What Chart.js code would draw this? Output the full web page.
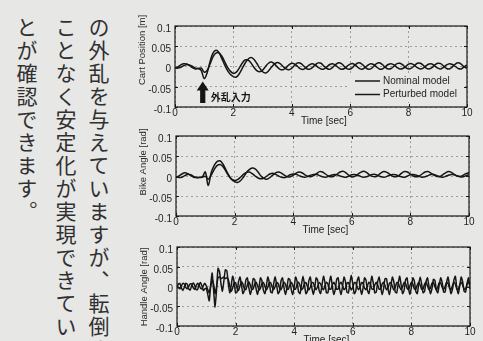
<!DOCTYPE html>
<html>
<head>
<meta charset="utf-8">
<script src="https://cdn.jsdelivr.net/npm/chart.js@4.4.1/dist/chart.umd.min.js"></script>
<style>
  html, body { margin: 0; padding: 0; width: 483px; height: 341px; overflow: hidden; background: #e7e7e6; }
  .col {
    position: absolute; top: 17px; writing-mode: vertical-rl;
    font-family: "Noto Sans CJK JP", sans-serif; font-size: 21px; line-height: 1;
    letter-spacing: 2px; color: #303030; white-space: nowrap;
  }
  canvas { position: absolute; left: 0; top: 0; }
</style>
</head>
<body>
<div class="col" style="left:88px">の外乱を与えていますが、転倒する</div>
<div class="col" style="left:55px">ことなく安定化が実現できている</div>
<div class="col" style="left:16px">とが確認できます。</div>
<canvas id="cart" width="483" height="341"></canvas>
<canvas id="bike" width="483" height="341"></canvas>
<canvas id="handle" width="483" height="341"></canvas>
<script>
// sample times [sec]
const timeCoarse = [
  0,0.1,0.2,0.3,0.4,0.5,0.6,0.7,0.8,0.9,
  1,1.1,1.2,1.3,1.4,1.5,1.6,1.7,1.8,1.9,
  2,2.1,2.2,2.3,2.4,2.5,2.6,2.7,2.8,2.9,
  3,3.1,3.2,3.3,3.4,3.5,3.6,3.7,3.8,3.9,
  4,4.1,4.2,4.3,4.4,4.5,4.6,4.7,4.8,4.9,
  5,5.1,5.2,5.3,5.4,5.5,5.6,5.7,5.8,5.9,
  6,6.1,6.2,6.3,6.4,6.5,6.6,6.7,6.8,6.9,
  7,7.1,7.2,7.3,7.4,7.5,7.6,7.7,7.8,7.9,
  8,8.1,8.2,8.3,8.4,8.5,8.6,8.7,8.8,8.9,
  9,9.1,9.2,9.3,9.4,9.5,9.6,9.7,9.8,9.9,
  10
];
const timeFine = [
  0,0.05,0.1,0.15,0.2,0.25,0.3,0.35,0.4,0.45,0.5,0.55,0.6,0.65,0.7,0.75,0.8,0.85,0.9,0.95,
  1,1.05,1.1,1.15,1.2,1.25,1.3,1.35,1.4,1.45,1.5,1.55,1.6,1.65,1.7,1.75,1.8,1.85,1.9,1.95,
  2,2.05,2.1,2.15,2.2,2.25,2.3,2.35,2.4,2.45,2.5,2.55,2.6,2.65,2.7,2.75,2.8,2.85,2.9,2.95,
  3,3.05,3.1,3.15,3.2,3.25,3.3,3.35,3.4,3.45,3.5,3.55,3.6,3.65,3.7,3.75,3.8,3.85,3.9,3.95,
  4,4.05,4.1,4.15,4.2,4.25,4.3,4.35,4.4,4.45,4.5,4.55,4.6,4.65,4.7,4.75,4.8,4.85,4.9,4.95,
  5,5.05,5.1,5.15,5.2,5.25,5.3,5.35,5.4,5.45,5.5,5.55,5.6,5.65,5.7,5.75,5.8,5.85,5.9,5.95,
  6,6.05,6.1,6.15,6.2,6.25,6.3,6.35,6.4,6.45,6.5,6.55,6.6,6.65,6.7,6.75,6.8,6.85,6.9,6.95,
  7,7.05,7.1,7.15,7.2,7.25,7.3,7.35,7.4,7.45,7.5,7.55,7.6,7.65,7.7,7.75,7.8,7.85,7.9,7.95,
  8,8.05,8.1,8.15,8.2,8.25,8.3,8.35,8.4,8.45,8.5,8.55,8.6,8.65,8.7,8.75,8.8,8.85,8.9,8.95,
  9,9.05,9.1,9.15,9.2,9.25,9.3,9.35,9.4,9.45,9.5,9.55,9.6,9.65,9.7,9.75,9.8,9.85,9.9,9.95,
  10
];

// Cart Position [m]
const cartNominal = [
  -0.004,-0.001,0.004,0.007,0.006,0.002,-0.003,-0.006,-0.005,-0.010,
  -0.030,-0.016,0.012,0.033,0.040,0.035,0.020,0.004,-0.010,-0.020,
  -0.025,-0.026,-0.018,-0.005,0.008,0.018,0.022,0.018,0.008,-0.004,
  -0.013,-0.016,-0.011,-0.002,0.006,0.010,0.007,0.000,-0.006,-0.008,
  -0.004,0.003,0.009,0.008,0.002,-0.005,-0.007,-0.003,0.004,0.009,
  0.008,0.001,-0.005,-0.007,-0.002,0.005,0.009,0.007,0.000,-0.006,
  -0.006,-0.001,0.006,0.009,0.006,-0.001,-0.006,-0.006,0.000,0.007,
  0.009,0.005,-0.002,-0.006,-0.005,0.001,0.007,0.008,0.004,-0.003,
  -0.006,-0.004,0.002,0.008,0.008,0.003,-0.004,-0.006,-0.003,0.004,
  0.008,0.007,0.001,-0.005,-0.006,-0.001,0.006,0.009,0.006,-0.001,
  -0.004
];
const cartPerturbed = [
  -0.003,-0.004,-0.002,0.002,0.005,0.004,0.000,-0.004,-0.005,-0.004,
  -0.014,-0.010,0.006,0.024,0.033,0.034,0.026,0.012,-0.002,-0.012,
  -0.017,-0.014,-0.004,0.008,0.016,0.016,0.009,-0.002,-0.010,-0.013,
  -0.009,0.000,0.008,0.011,0.007,-0.001,-0.007,-0.008,-0.003,0.004,
  0.008,0.006,0.000,-0.006,-0.007,-0.002,0.004,0.007,0.004,-0.002,
  -0.006,-0.006,-0.001,0.005,0.007,0.003,-0.003,-0.007,-0.005,0.001,
  0.006,0.007,0.002,-0.004,-0.007,-0.003,0.003,0.007,0.005,-0.001,
  -0.006,-0.006,-0.001,0.005,0.007,0.004,-0.002,-0.006,-0.005,0.000,
  0.006,0.007,0.003,-0.003,-0.006,-0.004,0.002,0.006,0.006,0.001,
  -0.004,-0.006,-0.002,0.004,0.007,0.005,0.000,-0.005,-0.006,-0.001,
  0.004
];

// Bike Angle [rad]
const bikeNominal = [
  -0.004,0.000,0.005,0.008,0.006,0.001,-0.003,-0.004,-0.003,-0.002,
  0.010,-0.024,0.008,0.026,0.036,0.038,0.030,0.016,0.002,-0.009,
  -0.014,-0.016,-0.012,-0.003,0.008,0.016,0.020,0.018,0.010,0.000,
  -0.006,-0.008,-0.004,0.002,0.008,0.010,0.007,0.002,-0.002,-0.002,
  0.002,0.007,0.010,0.008,0.003,-0.001,-0.002,0.001,0.006,0.011,
  0.010,0.005,0.000,-0.002,0.000,0.005,0.010,0.012,0.008,0.002,
  -0.002,-0.001,0.004,0.009,0.012,0.009,0.003,-0.001,-0.002,0.002,
  0.008,0.011,0.009,0.004,-0.001,-0.002,0.001,0.007,0.011,0.010,
  0.005,0.000,-0.002,0.000,0.005,0.010,0.011,0.007,0.002,-0.001,
  -0.001,0.003,0.008,0.011,0.009,0.004,0.000,-0.001,0.002,0.006,
  0.008
];
const bikePerturbed = [
  -0.002,-0.004,-0.003,0.001,0.004,0.003,-0.001,-0.004,-0.004,-0.003,
  -0.001,-0.008,0.002,0.016,0.026,0.029,0.024,0.012,0.000,-0.008,
  -0.011,-0.009,-0.003,0.004,0.009,0.010,0.006,0.000,-0.005,-0.007,
  -0.005,0.000,0.005,0.007,0.004,0.000,-0.003,-0.004,-0.001,0.003,
  0.005,0.004,0.001,-0.002,-0.003,-0.001,0.002,0.004,0.004,0.001,
  -0.002,-0.003,-0.001,0.002,0.004,0.003,0.000,-0.002,-0.003,0.000,
  0.003,0.004,0.002,-0.001,-0.003,-0.002,0.001,0.004,0.004,0.001,
  -0.002,-0.003,-0.001,0.002,0.004,0.003,0.000,-0.002,-0.003,0.000,
  0.003,0.004,0.002,-0.001,-0.003,-0.002,0.001,0.004,0.004,0.001,
  -0.002,-0.003,-0.001,0.002,0.004,0.003,0.000,-0.002,-0.002,0.001,
  0.003
];

// Handle Angle [rad]
const handleNominal = [
  0.000,0.006,0.008,-0.004,-0.010,-0.002,0.008,0.006,-0.006,-0.009,0.002,0.009,0.004,-0.008,-0.008,0.004,0.010,0.002,-0.010,-0.006,
  -0.004,-0.020,-0.036,0.004,0.034,-0.010,-0.052,-0.008,0.046,0.038,0.008,-0.012,0.014,0.042,0.040,0.008,-0.016,0.002,0.026,0.012,
  -0.016,-0.014,0.012,0.024,0.004,-0.018,-0.010,0.016,0.022,-0.002,-0.020,-0.006,0.020,0.018,-0.006,-0.020,-0.002,0.022,0.014,-0.010,
  -0.018,0.002,0.024,0.010,-0.014,-0.016,0.008,0.024,0.004,-0.018,-0.012,0.014,0.022,-0.002,-0.020,-0.006,0.020,0.018,-0.008,-0.020,
  0.000,0.024,0.012,-0.014,-0.018,0.006,0.026,0.006,-0.018,-0.012,0.014,0.024,-0.002,-0.020,-0.004,0.022,0.016,-0.010,-0.018,0.004,
  0.026,0.010,-0.016,-0.016,0.010,0.026,0.002,-0.020,-0.008,0.018,0.022,-0.006,-0.020,0.000,0.024,0.012,-0.014,-0.016,0.008,0.028,
  0.006,-0.018,-0.012,0.014,0.024,-0.002,-0.020,-0.004,0.022,0.016,-0.010,-0.018,0.004,0.026,0.008,-0.016,-0.014,0.012,0.024,0.000,
  -0.020,-0.006,0.020,0.020,-0.006,-0.020,0.000,0.024,0.012,-0.014,-0.016,0.008,0.026,0.004,-0.018,-0.010,0.016,0.022,-0.004,-0.020,
  -0.002,0.022,0.014,-0.012,-0.018,0.006,0.024,0.006,-0.016,-0.012,0.012,0.022,0.000,-0.018,-0.006,0.018,0.016,-0.008,-0.016,0.004,
  0.022,0.010,-0.014,-0.014,0.010,0.024,0.002,-0.018,-0.008,0.016,0.026,-0.004,-0.018,0.002,0.024,0.012,-0.012,-0.014,0.008,0.022,
  -0.006
];
const handlePerturbed = [
  0.002,-0.003,-0.006,0.002,0.008,0.006,-0.002,-0.006,0.000,0.007,0.006,-0.003,-0.007,0.000,0.008,0.005,-0.004,-0.006,0.002,0.008,
  0.002,-0.008,-0.016,0.000,0.016,0.006,-0.018,0.000,0.022,0.024,0.020,0.022,0.024,0.020,0.022,0.018,0.002,-0.012,-0.004,0.010,
  0.010,-0.004,-0.010,0.002,0.012,0.006,-0.006,-0.008,0.004,0.012,0.004,-0.008,-0.006,0.006,0.011,0.002,-0.009,-0.004,0.008,0.010,
  0.000,-0.009,-0.002,0.010,0.009,-0.002,-0.008,0.000,0.010,0.008,-0.004,-0.008,0.002,0.011,0.006,-0.006,-0.007,0.004,0.011,0.004,
  -0.007,-0.006,0.006,0.011,0.002,-0.008,-0.004,0.008,0.010,0.000,-0.009,-0.002,0.010,0.009,-0.002,-0.008,0.000,0.010,0.007,-0.004,
  -0.008,0.002,0.011,0.006,-0.006,-0.007,0.004,0.011,0.004,-0.007,-0.006,0.006,0.011,0.002,-0.008,-0.004,0.008,0.010,0.000,-0.009,
  -0.002,0.010,0.009,-0.002,-0.008,0.000,0.010,0.008,-0.004,-0.008,0.002,0.011,0.006,-0.006,-0.007,0.004,0.011,0.004,-0.007,-0.006,
  0.006,0.011,0.002,-0.008,-0.004,0.008,0.010,0.000,-0.009,-0.002,0.010,0.009,-0.002,-0.008,0.000,0.010,0.008,-0.004,-0.008,0.002,
  0.011,0.006,-0.006,-0.007,0.004,0.011,0.004,-0.007,-0.006,0.006,0.011,0.002,-0.008,-0.004,0.008,0.010,0.000,-0.009,-0.002,0.010,
  0.009,-0.002,-0.008,0.000,0.010,0.008,-0.004,-0.008,0.002,0.011,0.006,-0.006,-0.007,0.004,0.011,0.004,-0.007,-0.006,0.006,0.011,
  0.002
];

const seriesLabels = ["Nominal model", "Perturbed model"];
const xTicks = { min: 0, max: 10, step: 2 };
const yTicks = { min: -0.1, max: 0.1, step: 0.05 };

const FONT = '"Liberation Sans", Arial, sans-serif';
Chart.defaults.font.family = FONT;
Chart.defaults.font.size = 10;
Chart.defaults.color = "#1f1f1f";

// frame, inner ticks, axis titles, legend and the disturbance arrow
const decor = {
  id: "decor",
  afterDraw(chart, args, o) {
    const { ctx, chartArea: a, scales: { x, y } } = chart;
    ctx.save();
    ctx.strokeStyle = "#1a1a1a";
    ctx.lineWidth = 1.2;
    ctx.strokeRect(a.left, a.top, a.right - a.left, a.bottom - a.top);

    ctx.lineWidth = 1;
    ctx.beginPath();
    x.ticks.forEach(t => {
      const px = Math.round(x.getPixelForValue(t.value)) + 0.5;
      ctx.moveTo(px, a.bottom); ctx.lineTo(px, a.bottom - 3);
      ctx.moveTo(px, a.top); ctx.lineTo(px, a.top + 3);
    });
    y.ticks.forEach(t => {
      const py = Math.round(y.getPixelForValue(t.value)) + 0.5;
      ctx.moveTo(a.left, py); ctx.lineTo(a.left + 3, py);
      ctx.moveTo(a.right, py); ctx.lineTo(a.right - 3, py);
    });
    ctx.stroke();

    ctx.fillStyle = "#222";
    ctx.font = "10px " + FONT;
    ctx.textAlign = "center";
    ctx.textBaseline = "middle";
    ctx.fillText("Time [sec]", x.getPixelForValue(5.1), a.bottom + 14);

    ctx.save();
    ctx.translate(a.left - 33, o.yTitleY);
    ctx.rotate(-Math.PI / 2);
    ctx.font = "9.5px " + FONT;
    ctx.fillStyle = "#2a2a2a";
    ctx.fillText(o.yTitle, 0, 0);
    ctx.restore();

    if (o.legend) {
      const right = a.right - 4, bottom = a.bottom - 4;
      ctx.fillStyle = "#e7e7e6";
      ctx.fillRect(right - 113, bottom - 29, 112, 28);
      ctx.strokeStyle = "#1a1a1a";
      ctx.lineWidth = 1.5;
      ctx.textAlign = "left";
      ctx.fillStyle = "#1f1f1f";
      chart.data.datasets.forEach((ds, i) => {
        const ly = bottom - 22 + i * 13.5;
        ctx.beginPath();
        ctx.moveTo(right - 108, ly); ctx.lineTo(right - 83, ly);
        ctx.stroke();
        ctx.fillText(ds.label, right - 80, ly);
      });
    }

    if (o.arrow) {
      const ax = x.getPixelForValue(o.arrow.t);
      const tip = y.getPixelForValue(o.arrow.tip);
      const base = y.getPixelForValue(o.arrow.base);
      const neck = tip + 9;
      ctx.fillStyle = "#151515";
      ctx.beginPath();
      ctx.moveTo(ax, tip);
      ctx.lineTo(ax + 6, neck);
      ctx.lineTo(ax + 2.6, neck);
      ctx.lineTo(ax + 2.6, base);
      ctx.lineTo(ax - 2.6, base);
      ctx.lineTo(ax - 2.6, neck);
      ctx.lineTo(ax - 6, neck);
      ctx.closePath();
      ctx.fill();
      ctx.font = 'bold 10px "Noto Sans CJK JP", sans-serif';
      ctx.textAlign = "left";
      ctx.fillText(o.arrow.text, ax + 8, y.getPixelForValue(o.arrow.textY));
    }
    ctx.restore();
  }
};

function makePlot(id, times, nominal, perturbed, box, decorOpts, tension) {
  const pts = vals => times.map((t, i) => ({ x: t, y: vals[i] }));
  const line = {
    borderColor: "#161616", borderWidth: 1.5, pointRadius: 0,
    tension: tension, fill: false
  };
  return new Chart(document.getElementById(id), {
    type: "line",
    data: {
      datasets: [
        Object.assign({ label: seriesLabels[0], data: pts(nominal) }, line),
        Object.assign({ label: seriesLabels[1], data: pts(perturbed) }, line)
      ]
    },
    options: {
      responsive: false,
      animation: false,
      events: [],
      layout: {
        padding: { left: box.left - 30, right: 483 - box.right, top: box.top, bottom: 341 - box.bottom - 14 }
      },
      plugins: { legend: { display: false }, tooltip: { enabled: false }, decor: decorOpts },
      scales: {
        x: {
          type: "linear", min: xTicks.min, max: xTicks.max,
          ticks: { stepSize: xTicks.step, padding: 0, maxRotation: 0, color: "#1f1f1f" },
          grid: { color: "#8a8a8a", lineWidth: 0.8, drawTicks: false },
          border: { display: false, dash: [2, 3] },
          afterFit(s) { s.height = 14; }
        },
        y: {
          min: yTicks.min, max: yTicks.max,
          ticks: {
            stepSize: yTicks.step, padding: 4, labelOffset: 3, color: "#1f1f1f",
            callback: v => String(Math.round(v * 100) / 100)
          },
          grid: { color: "#8a8a8a", lineWidth: 0.8, drawTicks: false },
          border: { display: false, dash: [2, 3] },
          afterFit(s) { s.width = 30; }
        }
      }
    },
    plugins: [decor]
  });
}

makePlot("cart", timeCoarse, cartNominal, cartPerturbed,
  { left: 175, right: 467, top: 26, bottom: 107 },
  { yTitle: "Cart Position [m]", yTitleY: 50, legend: true,
    arrow: { t: 0.95, tip: -0.037, base: -0.09, text: "外乱入力", textY: -0.075 } }, 0.35);

makePlot("bike", timeCoarse, bikeNominal, bikePerturbed,
  { left: 176, right: 469, top: 136, bottom: 216 },
  { yTitle: "Bike Angle [rad]", yTitleY: 162 }, 0.35);

makePlot("handle", timeFine, handleNominal, handlePerturbed,
  { left: 177, right: 470, top: 247, bottom: 326 },
  { yTitle: "Handle Angle [rad]", yTitleY: 287 }, 0.2);
</script>
</body>
</html>
